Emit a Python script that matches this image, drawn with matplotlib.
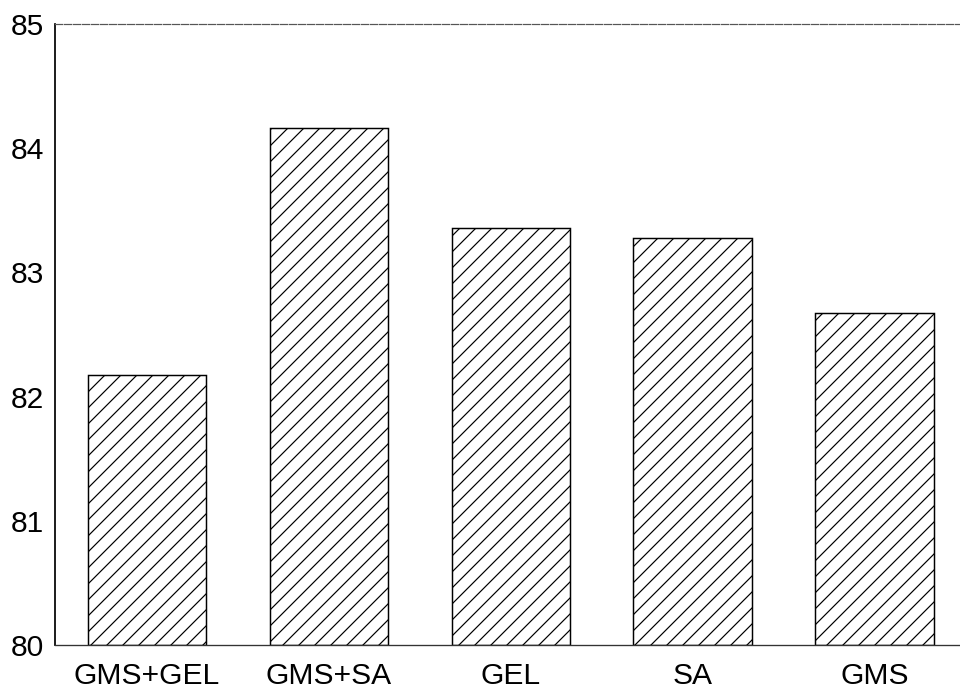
import matplotlib
matplotlib.use("Agg")
import matplotlib.pyplot as plt
import numpy as np

# Data
groups = ["GMS+GEL", "GMS+SA", "GEL", "SA", "GMS"]
values = [82.17, 84.16, 83.36, 83.28, 82.67]
yticks = [80, 81, 82, 83, 84, 85]

plt.rcParams['font.family'] = ['Liberation Sans', 'DejaVu Sans']
plt.rcParams['hatch.linewidth'] = 0.9
plt.rcParams['hatch.color'] = '#333333'

fig = plt.figure(figsize=(10, 7.1875), dpi=96)
ax = fig.add_axes([55/960, 1 - 645/690, 1 - 55/960, (645 - 24)/690])

x = np.arange(len(groups))
ax.bar(x, np.array(values) - 80, bottom=80, width=0.65, color='white',
       edgecolor='black', linewidth=1.1, hatch='//')

ax.set_ylim(80, 85)
ax.set_xlim(-0.505, 4.47)
ax.set_yticks(yticks)
ax.set_xticks(x)
ax.set_xticklabels(groups)
ax.tick_params(axis='both', length=0, labelsize=22.5)
ax.tick_params(axis='x', pad=12.5)
ax.tick_params(axis='y', pad=8.5)

ax.spines['right'].set_visible(False)
ax.spines['left'].set_linewidth(1.3)
ax.spines['top'].set_color('#555555')
ax.spines['top'].set_linewidth(0.9)
ax.spines['top'].set_linestyle((0, (6, 1.5)))
ax.spines['bottom'].set_color('#333333')
ax.spines['bottom'].set_linewidth(1.0)

fig.savefig("out.png", dpi=96)
